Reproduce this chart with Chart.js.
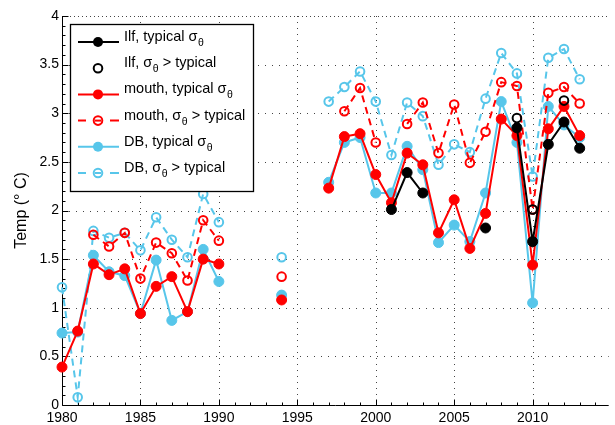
<!DOCTYPE html>
<html><head><meta charset="utf-8">
<script src="https://cdn.jsdelivr.net/npm/chart.js@4.4.0/dist/chart.umd.min.js"></script>
<style>html,body{margin:0;padding:0;background:#fff;overflow:hidden}</style>
</head><body>
<canvas id="c" width="615" height="425"></canvas>
<script>
// ---- data ----
const xTicks = [1980, 1985, 1990, 1995, 2000, 2005, 2010];
const yTicks = [0, 0.5, 1, 1.5, 2, 2.5, 3, 3.5, 4];

const ilfTypYears = [2001, 2002, 2003, 2004, 2007, 2008, 2009, 2010, 2011, 2012, 2013];
const ilfTypVals  = [2.01, 2.39, 2.18, null, 1.82, null, 2.85, 1.68, 2.68, 2.91, 2.64];

const ilfHighYears = [2009, 2010, 2012];
const ilfHighVals  = [2.95, 2.01, 3.13];

const mouthTypYears = [1980,1981,1982,1983,1984,1985,1986,1987,1988,1989,1990,1991,1994,1995,
  1997,1998,1999,2000,2001,2002,2003,2004,2005,2006,2007,2008,2009,2010,2011,2012,2013];
const mouthTypVals = [0.39,0.76,1.45,1.34,1.40,0.94,1.22,1.32,0.96,1.50,1.45,null,1.08,null,
  2.23,2.76,2.79,2.37,2.08,2.59,2.47,1.77,2.11,1.61,1.97,2.94,2.77,1.44,2.84,3.07,2.77];

const mouthHighYears = [1982,1983,1984,1985,1986,1987,1988,1989,1990,1991,1994,1995,
  1998,1999,2000,2001,2002,2003,2004,2005,2006,2007,2008,2009,2010,2011,2012,2013];
const mouthHighVals = [1.75,1.63,1.77,1.30,1.67,1.56,1.28,1.90,1.69,null,1.32,null,
  3.02,3.26,2.70,null,2.89,3.11,2.59,3.09,2.49,2.81,3.32,3.28,2.01,3.21,3.27,3.10];

const dbTypYears = mouthTypYears;
const dbTypVals = [0.74,0.75,1.54,1.37,1.33,0.94,1.49,0.87,0.96,1.60,1.27,null,1.13,null,
  2.29,2.70,2.75,2.18,2.18,2.66,2.42,1.67,1.85,1.68,2.18,3.12,2.70,1.05,3.07,2.88,2.75];

const dbHighYears = [1980,1981,1982,1983,1984,1985,1986,1987,1988,1989,1990,1991,1994,1995,
  1997,1998,1999,2000,2001,2002,2003,2004,2005,2006,2007,2008,2009,2010,2011,2012,2013];
const dbHighVals = [1.21,0.08,1.79,1.72,1.77,1.59,1.93,1.70,1.52,2.17,1.88,null,1.52,null,
  3.12,3.27,3.43,3.12,2.57,3.11,2.97,2.47,2.68,2.60,3.15,3.62,3.41,2.35,3.57,3.66,3.35];

// legend text pieces: [before subscript, subscript, after]
const legendLabels = [
  ["Ilf, typical σ", "θ", ""],
  ["Ilf, σ", "θ", " > typical"],
  ["mouth, typical σ", "θ", ""],
  ["mouth, σ", "θ", " > typical"],
  ["DB, typical σ", "θ", ""],
  ["DB, σ", "θ", " > typical"]
];

const BLACK = '#000000', RED = '#ff0000', CYAN = '#57c6ea';
const FONT = '"Liberation Sans", Arial, Helvetica, sans-serif';

function pts(years, vals) { return years.map((x, i) => ({x: x, y: vals[i]})); }

function solidDs(years, vals, color) {
  return { data: pts(years, vals), borderColor: color, backgroundColor: color, borderWidth: 2,
    pointRadius: 5, pointBorderWidth: 1, pointBorderColor: color, pointBackgroundColor: color,
    pointStyle: 'circle', spanGaps: false, clip: false, tension: 0, dashed: false };
}
function openDs(years, vals, color, showLine) {
  return { data: pts(years, vals), borderColor: color, backgroundColor: 'rgba(0,0,0,0)', borderWidth: 2,
    borderDash: [7, 5], showLine: showLine, pointRadius: 4.3, pointBorderWidth: 2, pointBorderColor: color,
    pointBackgroundColor: 'rgba(0,0,0,0)', pointStyle: 'circle', spanGaps: false, clip: false, tension: 0, dashed: true };
}

const datasets = [
  solidDs(ilfTypYears, ilfTypVals, BLACK),
  openDs(ilfHighYears, ilfHighVals, BLACK, false),
  solidDs(mouthTypYears, mouthTypVals, RED),
  openDs(mouthHighYears, mouthHighVals, RED, true),
  solidDs(dbTypYears, dbTypVals, CYAN),
  openDs(dbHighYears, dbHighVals, CYAN, true)
];

const framePlugin = {
  id: 'frame',
  beforeDatasetsDraw(chart) {
    const {ctx, chartArea: a, scales: {x, y}} = chart;
    ctx.save();
    ctx.lineWidth = 1;
    ctx.strokeStyle = '#444';
    yTicks.forEach(v => {
      if (v === yTicks[0]) return;
      const py = Math.round(y.getPixelForValue(v)) + 0.5;
      ctx.setLineDash(v === yTicks[yTicks.length - 1] ? [1, 3] : [1, 6]);
      ctx.beginPath(); ctx.moveTo(a.left, py); ctx.lineTo(a.right, py); ctx.stroke();
    });
    xTicks.forEach(v => {
      if (v === xTicks[0]) return;
      const px = Math.round(x.getPixelForValue(v)) + 0.5;
      ctx.setLineDash([1, 5]);
      ctx.beginPath(); ctx.moveTo(px, a.top); ctx.lineTo(px, a.bottom); ctx.stroke();
    });
    ctx.setLineDash([]);
    ctx.strokeStyle = '#000';
    const L = Math.round(a.left) + 0.5, B = Math.round(a.bottom) + 0.5;
    ctx.beginPath(); ctx.moveTo(L, a.top); ctx.lineTo(L, B); ctx.lineTo(a.right, B); ctx.stroke();
    // x ticks (major + yearly minor), inward
    for (let yr = Math.ceil(x.min); yr <= x.max; yr++) {
      const px = Math.round(x.getPixelForValue(yr)) + 0.5;
      const len = (yr % 5 === 0) ? 6 : 3;
      ctx.beginPath(); ctx.moveTo(px, B); ctx.lineTo(px, B - len); ctx.stroke();
    }
    // y ticks (major + minor), inward
    for (let k = 0; k <= 40; k++) {
      const py = Math.round(y.getPixelForValue(k / 10)) + 0.5;
      const len = (k % 5 === 0) ? 6 : 3;
      ctx.beginPath(); ctx.moveTo(L, py); ctx.lineTo(L + len, py); ctx.stroke();
    }
    ctx.restore();
  }
};

const legendPlugin = {
  id: 'customLegend',
  afterDraw(chart) {
    const ctx = chart.ctx;
    const bx = 70.5, by = 24.5, bw = 183, bh = 167;
    ctx.save();
    ctx.fillStyle = '#fff';
    ctx.fillRect(bx, by, bw, bh);
    ctx.lineWidth = 1.3;
    ctx.strokeStyle = '#000';
    ctx.strokeRect(bx, by, bw, bh);
    const ds = chart.data.datasets;
    for (let i = 0; i < ds.length; i++) {
      const d = ds[i];
      const cy = 42 + i * 26.2;
      const c = d.borderColor;
      ctx.strokeStyle = c;
      ctx.lineWidth = 2;
      if (d.showLine !== false) {
        ctx.beginPath();
        if (d.dashed) {
          ctx.moveTo(78, cy); ctx.lineTo(86, cy);
          ctx.moveTo(110, cy); ctx.lineTo(119, cy);
        } else {
          ctx.moveTo(78, cy); ctx.lineTo(119, cy);
        }
        ctx.stroke();
      }
      ctx.beginPath();
      ctx.arc(98, cy, d.pointRadius, 0, Math.PI * 2);
      if (d.dashed) {
        ctx.lineWidth = 2; ctx.stroke();
        if (d.showLine !== false) { ctx.beginPath(); ctx.moveTo(95, cy); ctx.lineTo(101, cy); ctx.stroke(); }
      } else {
        ctx.fillStyle = c; ctx.fill();
      }
      // text
      const lab = legendLabels[i];
      ctx.fillStyle = '#000';
      ctx.textBaseline = 'alphabetic';
      ctx.textAlign = 'left';
      let tx = 124;
      const base = cy - 1;
      ctx.font = '14.5px ' + FONT;
      ctx.fillText(lab[0], tx, base);
      tx += ctx.measureText(lab[0]).width + 0.5;
      ctx.font = '10.5px ' + FONT;
      ctx.fillText(lab[1], tx, base + 5);
      tx += ctx.measureText(lab[1]).width;
      ctx.font = '14.5px ' + FONT;
      ctx.fillText(lab[2], tx, base);
    }
    ctx.restore();
  }
};

new Chart(document.getElementById('c'), {
  type: 'line',
  data: { datasets: datasets },
  plugins: [framePlugin, legendPlugin],
  options: {
    responsive: false,
    animation: false,
    devicePixelRatio: 1,
    layout: { padding: { left: 0, right: 0, top: 16, bottom: 0 } },
    plugins: { legend: { display: false }, tooltip: { enabled: false } },
    scales: {
      x: {
        type: 'linear', min: 1980, max: 2014.85,
        grid: { display: false, drawTicks: false },
        border: { display: false },
        afterBuildTicks: s => { s.ticks = xTicks.map(v => ({ value: v })); },
        afterFit: s => { s.height = 20; },
        ticks: { color: '#000', padding: 5, maxRotation: 0, autoSkip: false,
          font: { size: 14, family: FONT }, callback: v => String(v) }
      },
      y: {
        type: 'linear', min: 0, max: 4,
        grid: { display: false, drawTicks: false },
        border: { display: false },
        afterBuildTicks: s => { s.ticks = yTicks.map(v => ({ value: v })); },
        afterFit: s => { s.width = 62; },
        ticks: { color: '#000', padding: 3, autoSkip: false,
          font: { size: 14, family: FONT }, callback: v => String(Number(v.toFixed(1))) },
        title: { display: true, text: 'Temp (° C)', color: '#000',
          font: { size: 16, family: FONT }, padding: { top: 12, bottom: 0 } }
      }
    }
  }
});
</script>
</body></html>
